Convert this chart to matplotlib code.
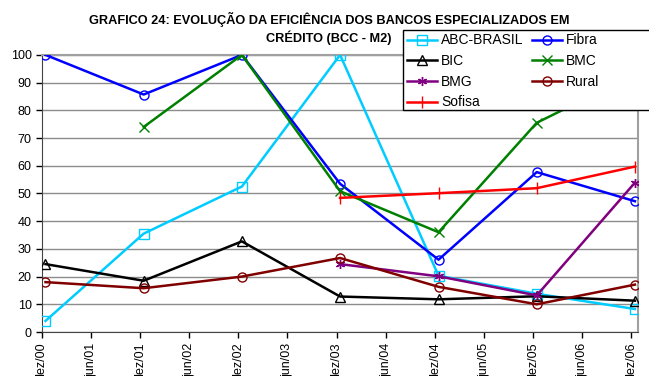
import datetime as dt

import matplotlib
matplotlib.use("Agg")
import matplotlib.pyplot as plt
from matplotlib.patches import Rectangle
import numpy as np

plt.rcParams["font.family"] = ["Liberation Sans", "DejaVu Sans"]

# observation dates (mid-December each year) and tick labels
years = [2000, 2001, 2002, 2003, 2004, 2005, 2006]
tick_labels = ["dez/00", "jun/01", "dez/01", "jun/02", "dez/02", "jun/03", "dez/03",
               "jun/04", "dez/04", "jun/05", "dez/05", "jun/06", "dez/06"]

abc = [4, 35.5, 52.5, 100, 20.3, 13.8, 8.3]
fibra = [100, 85.7, 100, 53.5, 26.1, 57.7, 47.2]
bic = [24.5, 18.5, 32.7, 12.8, 11.8, 12.9, 11.3]
bmc = [np.nan, 74, 100, 50.8, 36, 75.5, 93]
bmg = [np.nan, np.nan, np.nan, 24.5, 20.1, 13.2, 53.9]
rural = [18, 15.8, 20, 26.7, 16.3, 10, 17.1]
sofisa = [np.nan, np.nan, np.nan, 48.4, 50.1, 51.9, 59.7]

SERIES = [
    ("ABC-BRASIL", abc, "#00CCFF", "s"),
    ("Fibra", fibra, "#0000FF", "o"),
    ("BIC", bic, "#000000", "^"),
    ("BMC", bmc, "#008000", "x"),
    ("BMG", bmg, "#800080", (6, 2, 0)),
    ("Rural", rural, "#800000", "o"),
    ("Sofisa", sofisa, "#FF0000", "|"),
]

dates = [dt.date(y, 12, 14) for y in years]
ticks = []
for y in range(2000, 2007):
    ticks.append(dt.date(y, 12, 1))
    if y < 2006:
        ticks.append(dt.date(y + 1, 6, 1))

fig = plt.figure(figsize=(6.49, 3.76), dpi=100)
ax = fig.add_axes([0.0647, 0.117, 0.9186, 0.737])

handles = {}
for name, vals, col, mk in SERIES:
    ms = 8 if mk == "|" else 6.5
    h, = ax.plot(dates, vals, color=col, lw=1.8, marker=mk, ms=ms,
                 mfc="none", mec=col, mew=1.0, label=name, zorder=3)
    handles[name] = h

ax.set_ylim(0, 100)
ax.set_yticks(np.arange(0, 101, 10))
ax.set_xlim(dt.date(2000, 12, 1), dt.date(2006, 12, 26))
ax.set_xticks(ticks)
ax.set_xticklabels(tick_labels, rotation=90)
ax.tick_params(axis="both", labelsize=9, direction="out", length=4, width=1)
ax.grid(axis="y", color="#8c8c8c", lw=1.0)
ax.set_axisbelow(True)
for side in ("top", "right"):
    ax.spines[side].set_color("#a0a0a0")
    ax.spines[side].set_linewidth(1.5)
ax.spines["left"].set_color("#444444")
ax.spines["bottom"].set_color("#444444")

fig.text(0.507, 0.968, "GRAFICO 24: EVOLUÇÃO DA EFICIÊNCIA DOS BANCOS ESPECIALIZADOS EM\n"
         "CRÉDITO (BCC - M2)", ha="center", va="top", fontsize=9.2,
         fontweight="bold", linespacing=1.3)

# legend box (runs past the right edge like the original)
box = Rectangle((0.621, 0.7074), 0.40, 0.2128, transform=fig.transFigure,
                facecolor="white", edgecolor="black", lw=1.0, zorder=5)
fig.patches.append(box)

order = ["ABC-BRASIL", "BIC", "BMG", "Sofisa", "Fibra", "BMC", "Rural"]
leg = fig.legend([handles[n] for n in order], order, ncol=2, loc="upper left",
                 bbox_to_anchor=(0.627, 0.911), fontsize=10, frameon=False,
                 handlelength=2.15, handletextpad=0.3, columnspacing=0.63,
                 labelspacing=0.48, borderpad=0, borderaxespad=0)
leg.set_zorder(6)

fig.savefig("out.png", dpi=100)
